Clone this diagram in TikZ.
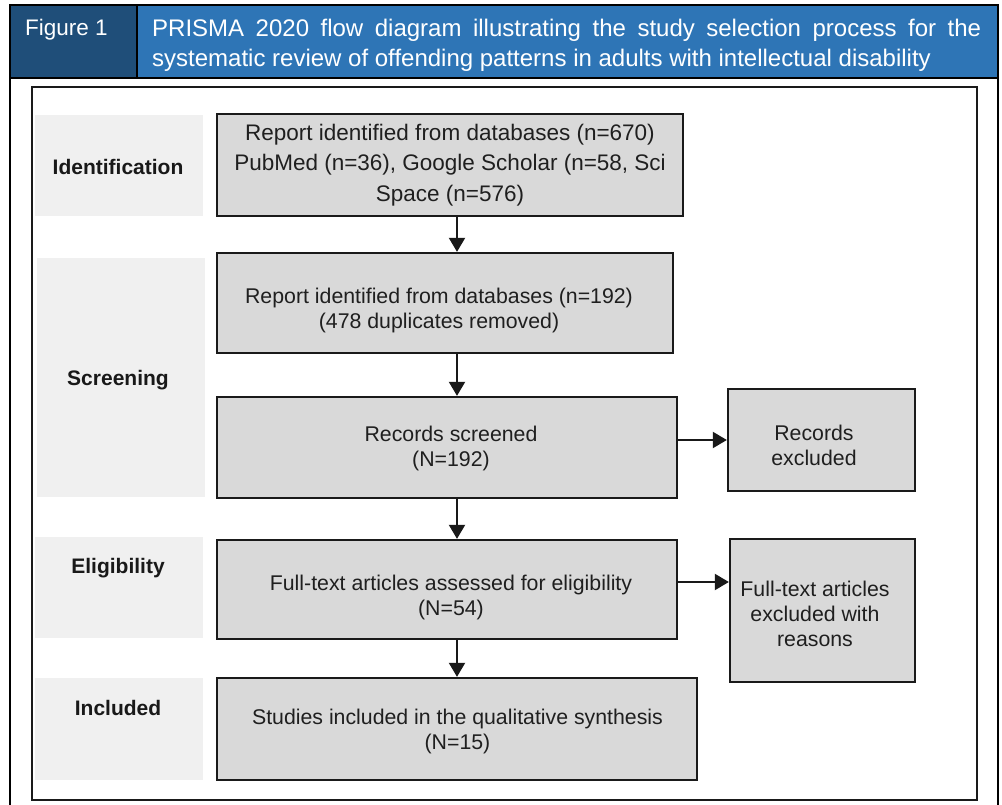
\documentclass[tikz,border=0pt]{standalone}
\usepackage{fontspec}
\setmainfont{Liberation Sans}
\usetikzlibrary{arrows.meta}
\definecolor{hdark}{HTML}{1F4E79}
\definecolor{hlight}{HTML}{2E75B6}
\definecolor{boxfill}{HTML}{D9D9D9}
\definecolor{bandfill}{HTML}{F0F0F0}
\definecolor{frame}{HTML}{1A1A1A}
\tikzset{
  flowbox/.style={draw=frame, line width=2.3pt, fill=boxfill, inner sep=0pt},
  flowtext/.style={inner sep=0pt, align=center, font=\fontsize{21.3}{25}\selectfont, text=black!88},
  band/.style={fill=bandfill, draw=none},
  stagelabel/.style={font=\bfseries\fontsize{21}{25}\selectfont, text=black!90},
  arr/.style={line width=2pt, draw=black!90, -{Triangle[length=14pt,width=16pt]}},
}
\begin{document}
\begin{tikzpicture}[x=1pt,y=-1pt]
\useasboundingbox (0,0) rectangle (1002,805);
% header
\fill[hdark] (10,5) rectangle (137,78);
\fill[hlight] (137,5) rectangle (998,78);
\draw[line width=2pt, black] (10,805) -- (10,5) -- (998,5) -- (998,805);
\draw[line width=2pt, black] (10,78) -- (998,78);
\draw[line width=2pt, black] (137,5) -- (137,78);
\node[anchor=west, text=white, font=\fontsize{22.5}{28}\selectfont, inner sep=0pt] (fig) at (25,30) {Figure 1};
\node[anchor=north west, text=white, inner sep=0pt, text width=829pt, align=justify,
      font=\fontsize{24}{30}\selectfont] (title) at (152,19)
  {PRISMA 2020 flow diagram illustrating the study selection process for the\linebreak systematic review of offending patterns in adults with intellectual disability};
% inner frame
\draw[line width=2.5pt, frame] (32,87) rectangle (977,800);
% bands
\fill[band] (35,115) rectangle (203,216);
\fill[band] (37,258) rectangle (205,497);
\fill[band] (35,537) rectangle (203,638);
\fill[band] (35,678) rectangle (203,780);
\node[stagelabel] (l1) at (118,167) {Identification};
\node[stagelabel] (l2) at (118,380) {Screening};
\node[stagelabel] (l3) at (118,568) {Eligibility};
\node[stagelabel] (l4) at (118,708) {Included};
% boxes
\node[flowbox, minimum width=466pt, minimum height=102pt] (b1) at (450,165) {};
\node[flowbox, minimum width=456pt, minimum height=100pt] (b2) at (445,303) {};
\node[flowbox, minimum width=460pt, minimum height=101pt] (b3) at (447,447.5) {};
\node[flowbox, minimum width=460pt, minimum height=99pt] (b4) at (447,589.5) {};
\node[flowbox, minimum width=480pt, minimum height=102pt] (b5) at (457,729) {};
\node[flowbox, minimum width=187pt, minimum height=102pt] (r1) at (821.5,440) {};
\node[flowbox, minimum width=185pt, minimum height=143pt] (r2) at (822.5,610.5) {};
% texts
\node[flowtext, font=\fontsize{22.5}{30.5}\selectfont] (b1t) at (450,165)
  {Report identified from databases (n=670)\\PubMed (n=36), Google Scholar (n=58, Sci\\Space (n=576)};
\node[flowtext] (b2t) at (439,310) {Report identified from databases (n=192)\\(478 duplicates removed)};
\node[flowtext] (b3t) at (451,448.5) {Records screened\\(N=192)};
\node[flowtext] (b4t) at (451,597.5) {Full-text articles assessed for eligibility\\(N=54)};
\node[flowtext] (b5t) at (457.5,731) {Studies included in the qualitative synthesis\\(N=15)};
\node[flowtext] (r1t) at (814,445.5) {Records\\excluded};
\node[flowtext] (r2t) at (815,613.5) {Full-text articles\\excluded with\\reasons};
% connectors
\coordinate (xa) at (457,0);
\coordinate (ya) at (0,582);
\draw[arr] (b1.south -| xa) -- (b2.north -| xa);
\draw[arr] (b2.south -| xa) -- (b3.north -| xa);
\draw[arr] (b3.south -| xa) -- (b4.north -| xa);
\draw[arr] (b4.south -| xa) -- (b5.north -| xa);
\draw[arr] (b3.east |- r1.west) -- (r1.west);
\draw[arr] (b4.east |- ya) -- (r2.west |- ya);
\end{tikzpicture}
\end{document}
